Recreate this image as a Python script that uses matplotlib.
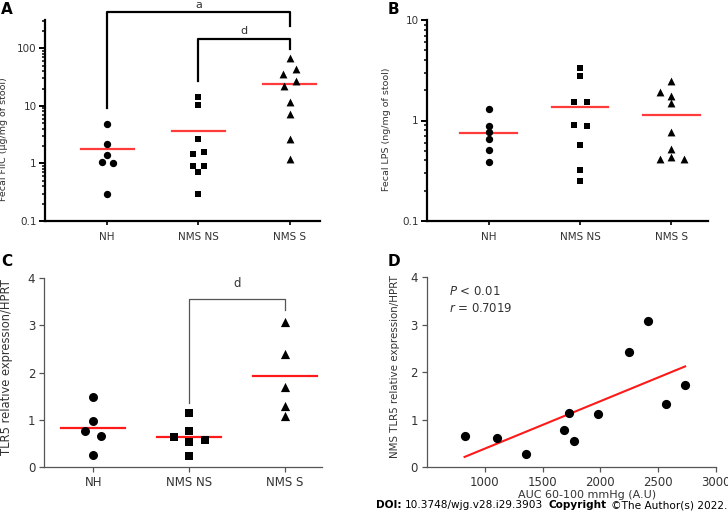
import numpy as np
import matplotlib
matplotlib.use("Agg")
import matplotlib.pyplot as plt
from matplotlib.ticker import FixedLocator, FuncFormatter, LogLocator, NullFormatter

plt.rcParams['font.family'] = ['DejaVu Sans']

# === Data ===
groups = ["NH", "NMS NS", "NMS S"]

# Panel A: fecal FliC (ug/mg of stool)
flic_nh = [4.8, 2.2, 1.4, 1.07, 1.0, 0.3]
flic_ns = [14.2, 10.3, 2.7, 1.48, 1.57, 0.92, 0.92, 0.70, 0.30]
flic_s = [67, 36, 43, 27, 22, 11.7, 7.3, 2.7, 1.18]
flic_mean = [1.79, 3.7, 24.4]

# Panel B: fecal LPS (ng/mg of stool)
lps_nh = [1.31, 0.89, 0.76, 0.65, 0.51, 0.39]
lps_ns = [3.3, 2.75, 1.52, 1.52, 0.90, 0.885, 0.57, 0.32, 0.25]
lps_s = [2.47, 1.93, 1.75, 1.48, 0.77, 0.52, 0.41, 0.43, 0.41]
lps_mean = [0.75, 1.35, 1.13]

# Panel C: TLR5 relative expression / HPRT
tlr5_nh = [1.47, 0.98, 0.75, 0.66, 0.25]
tlr5_ns = [1.13, 0.76, 0.63, 0.52, 0.57, 0.23]
tlr5_s = [3.07, 2.39, 1.70, 1.29, 1.08]
tlr5_mean = [0.83, 0.64, 1.92]

# Panel D: AUC vs NMS TLR5 expression
auc = [825, 1109, 1353, 1687, 1730, 1773, 1983, 2247, 2411, 2566, 2733]
tlr5_nms = [0.66, 0.61, 0.27, 0.79, 1.15, 0.55, 1.12, 2.43, 3.09, 1.33, 1.73]

# horizontal spread of the dots inside each column (category units)
dx_a = [[0, 0, 0, -0.06, 0.06, 0],
        [0, 0, 0, -0.065, 0.065, -0.065, 0.065, 0, 0],
        [0, -0.07, 0.065, 0.065, -0.065, 0, 0, 0, 0]]
dx_b = [[0, 0, 0, 0, 0, 0],
        [0, 0, -0.065, 0.07, -0.065, 0.07, 0, 0, 0],
        [0, -0.13, 0, 0, 0, 0, -0.13, 0, 0.135]]
dx_c = [[0, 0, -0.087, 0.077, 0],
        [0, 0, -0.16, 0, 0.164, 0],
        [0, 0, 0, 0, 0]]

markers = ["o", "s", "^"]
W, H = 728, 519


def rect(left, right, top, bottom):
    return [left / W, (H - bottom) / H, (right - left) / W, (bottom - top) / H]


def dot_panel(ax, series, offsets, means, sizes, half=0.3, red="#ff3b3b", lw=1.6):
    for i, (vals, offs) in enumerate(zip(series, offsets)):
        xs = np.array(offs) + i
        ax.scatter(xs, vals, marker=markers[i], s=sizes[i], color="black",
                   linewidths=0, zorder=3, clip_on=False)
        ax.plot([i - half, i + half], [means[i], means[i]], color=red, lw=lw, zorder=2)
    ax.set_xticks(range(3))
    ax.set_xticklabels(groups)
    for s in ["top", "right"]:
        ax.spines[s].set_visible(False)


fig = plt.figure(figsize=(7.28, 5.19), dpi=100)

# === Panel A ===
axA = fig.add_axes(rect(45, 320, 20, 221))
dot_panel(axA, [flic_nh, flic_ns, flic_s], dx_a, flic_mean, [28, 24, 32], half=0.29)
axA.set_yscale("log")
axA.set_ylim(0.1, 310)
axA.set_xlim(-0.68, 2.33)
axA.yaxis.set_major_locator(FixedLocator([0.1, 1, 10, 100]))
axA.yaxis.set_major_formatter(FuncFormatter(lambda v, p: f"{v:g}"))
axA.yaxis.set_minor_locator(LogLocator(base=10, subs=np.arange(2, 10)))
axA.yaxis.set_minor_formatter(NullFormatter())
axA.set_ylabel("Fecal FliC (\u00b5g/mg of stool)", fontsize=6.8, color="#333333")
axA.yaxis.set_label_coords(-0.136, 0.405)

# significance brackets
axA.plot([0, 0, 2, 2], [9.3, 426, 426, 240], color="black", lw=1.6, clip_on=False)
axA.text(1, 470, "a", ha="center", va="bottom", fontsize=8, color="#333333")
axA.plot([1, 1, 2, 2], [27.5, 144, 144, 97], color="black", lw=1.6, clip_on=False)
axA.text(1.5, 165, "d", ha="center", va="bottom", fontsize=8, color="#333333")

# === Panel B ===
axB = fig.add_axes(rect(427, 708, 20, 221))
dot_panel(axB, [lps_nh, lps_ns, lps_s], dx_b, lps_mean, [28, 24, 32], half=0.31)
axB.set_yscale("log")
axB.set_ylim(0.1, 10)
axB.set_xlim(-0.676, 2.40)
axB.yaxis.set_major_locator(FixedLocator([0.1, 1, 10]))
axB.yaxis.set_major_formatter(FuncFormatter(lambda v, p: f"{v:g}"))
axB.yaxis.set_minor_locator(LogLocator(base=10, subs=np.arange(2, 10)))
axB.yaxis.set_minor_formatter(NullFormatter())
axB.set_ylabel("Fecal LPS (ng/mg of stool)", fontsize=6.8, color="#333333")
axB.yaxis.set_label_coords(-0.129, 0.455)

for ax in (axA, axB):
    for s in ["left", "bottom"]:
        ax.spines[s].set_linewidth(1.6)
    ax.tick_params(axis="y", which="major", length=4, width=1.4, labelsize=7.5,
                   labelcolor="#333333", pad=2)
    ax.tick_params(axis="y", which="minor", length=2.5, width=1.1)
    ax.tick_params(axis="x", length=3, width=1.2, labelsize=7.5,
                   labelcolor="#333333", pad=5)

# === Panel C ===
axC = fig.add_axes(rect(44.3, 322, 278.3, 466.7))
dot_panel(axC, [tlr5_nh, tlr5_ns, tlr5_s], dx_c, tlr5_mean, [42, 36, 44],
          half=0.335, red="#ff1a1a", lw=1.6)
axC.set_ylim(0, 4)
axC.set_xlim(-0.51, 2.39)
axC.set_yticks([0, 1, 2, 3, 4])
axC.set_ylabel("TLR5 relative expression/HPRT", fontsize=8.3, color="#333333")
axC.yaxis.set_label_coords(-0.113, 0.53)
axC.plot([1, 1, 2, 2], [1.36, 3.56, 3.56, 3.33], color="#555555", lw=0.9)
axC.text(1.5, 3.9, "d", ha="center", va="center", fontsize=8.5, color="#333333")

# === Panel D ===
axD = fig.add_axes(rect(427, 716, 277.3, 467.3))
axD.scatter(auc, tlr5_nms, s=44, color="black", linewidths=0, zorder=3)
slope, icpt = np.polyfit(auc, tlr5_nms, 1)
xfit = np.array([min(auc), max(auc)])
axD.plot(xfit, slope * xfit + icpt, color="#ff1a1a", lw=1.5, zorder=2)
axD.set_xlim(500, 3000)
axD.set_ylim(0, 4)
axD.set_xticks([1000, 1500, 2000, 2500, 3000])
axD.set_yticks([0, 1, 2, 3, 4])
for s in ["top", "right"]:
    axD.spines[s].set_visible(False)
axD.set_ylabel("NMS TLR5 relative expression/HPRT", fontsize=7.4, color="#333333")
axD.yaxis.set_label_coords(-0.094, 0.53)
axD.set_xlabel("AUC 60-100 mmHg (A.U)", fontsize=8, color="#333333")
axD.xaxis.set_label_coords(0.553, -0.145)
axD.xaxis.label.set_va("center")
axD.text(0.076, 0.923, "$P$ < 0.01", transform=axD.transAxes, fontsize=8.5,
         color="#333333", va="center")
axD.text(0.076, 0.838, "$r$ = 0.7019", transform=axD.transAxes, fontsize=8.5,
         color="#333333", va="center")

for ax in (axC, axD):
    for s in ["left", "bottom"]:
        ax.spines[s].set_linewidth(0.9)
        ax.spines[s].set_color("#555555")
    ax.tick_params(length=3.5, width=0.9, color="#555555", labelsize=8.5,
                   labelcolor="#333333", pad=3)

# === Panel letters ===
for lbl, x, y in [("A", 1, 10), ("B", 388, 9), ("C", 1, 262), ("D", 388, 262)]:
    fig.text(x / W, 1 - y / H, lbl, fontsize=11, fontweight="bold", va="center", ha="left")

# === Footer ===
r = fig.canvas.get_renderer()
xpx = 376
yf = 1 - 505 / H
parts = [("DOI:", "bold", 3), ("10.3748/wjg.v28.i29.3903", "normal", 6),
         ("Copyright", "bold", 4), ("\u00a9The Author(s) 2022.", "normal", 0)]
for txt, wgt, gap in parts:
    t = fig.text(xpx / W, yf, txt, fontsize=7.6, fontweight=wgt, va="center", ha="left")
    bb = t.get_window_extent(renderer=r)
    xpx += bb.width + gap

fig.savefig("out.png", dpi=100)
